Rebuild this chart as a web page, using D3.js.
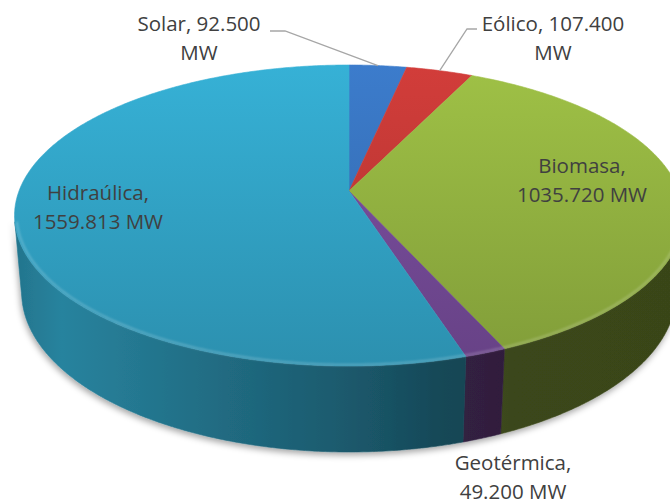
<!DOCTYPE html>
<html>
<head>
<meta charset="utf-8">
<script src="https://cdn.jsdelivr.net/npm/d3@7"></script>
<style>
  body { margin: 0; background: #fff; }
  svg { display: block; }
  .label { font-family: "Open Sans", sans-serif; font-size: 20.5px; fill: #404040; }
  .leader { fill: none; stroke: #a6a6a6; stroke-width: 1.3; }
</style>
</head>
<body>
<svg id="chart" width="670" height="504"></svg>
<script>
var categories = ['Solar', 'Eólico', 'Biomasa', 'Geotérmica', 'Hidraúlica'];
var values = [92.5, 107.4, 1035.72, 49.2, 1559.813];
var value_text = ['92.500', '107.400', '1035.720', '49.200', '1559.813'];
var unit = 'MW';

var slice_colors = ['#3a78c6', '#cc3b38', '#9abb44', '#7b4f9f', '#34acd0'];

// where excel dropped each label (centre x, first baseline) and where the line wraps
var label_layout = [
  { x: 199, y: 31, wrap: 'unit', leader: [[270, 31], [285, 31]] },
  { x: 553, y: 31, wrap: 'unit', leader: [[477, 29], [467, 29]] },
  { x: 582, y: 173, wrap: 'value', leader: null },
  { x: 513, y: 470, wrap: 'value', leader: null },
  { x: 98, y: 200, wrap: 'value', leader: null }
];
var line_gap = 29;

// 3d camera looking down on the pie
var cx = 349, cy = 191;
var focal = 1815, cam_dist = 5.5, tilt = Math.asin(0.444), thickness = 0.262;

function project(angle, r, z) {
  var x = r * Math.sin(angle);
  var y = -r * Math.cos(angle); // positive = towards viewer
  var d = cam_dist - (y * Math.cos(tilt) + z * Math.sin(tilt));
  return [cx + focal * x / d, cy + focal * (y * Math.sin(tilt) - z * Math.cos(tilt)) / d];
}

function arc_points(a0, a1, r, z) {
  var steps = Math.max(2, Math.ceil(Math.abs(a1 - a0) / (Math.PI / 360)));
  var pts = [];
  for (var i = 0; i <= steps; i++) {
    pts.push(project(a0 + (a1 - a0) * i / steps, r, z));
  }
  return pts;
}

function shade(c, k) {
  var rgb = d3.rgb(c);
  return d3.rgb(rgb.r * k, rgb.g * k, rgb.b * k).formatHex();
}

var svg = d3.select('#chart');
var defs = svg.append('defs');

var shadow = defs.append('filter').attr('id', 'shadow')
  .attr('x', '-10%').attr('y', '-10%').attr('width', '120%').attr('height', '130%');
shadow.append('feDropShadow').attr('dx', -1).attr('dy', 3).attr('stdDeviation', 3)
  .attr('flood-color', '#000').attr('flood-opacity', 0.35);

var blur = defs.append('filter').attr('id', 'soft');
blur.append('feGaussianBlur').attr('stdDeviation', 1);

// gradients: top face lit from the back, side darker to the right
var top_stops = [[0, 1.03], [1, 0.84]];
var wall_stops = [[0, 0.68], [0.07, 0.76], [0.28, 0.64], [0.5, 0.52], [0.64, 0.42], [0.74, 0.38], [1, 0.37]];

slice_colors.forEach(function (c, i) {
  var tg = defs.append('linearGradient').attr('id', 'top_' + i)
    .attr('gradientUnits', 'userSpaceOnUse')
    .attr('x1', 0).attr('x2', 0).attr('y1', 65).attr('y2', 366);
  top_stops.forEach(function (s) {
    tg.append('stop').attr('offset', s[0]).attr('stop-color', shade(c, s[1]));
  });
  var wg = defs.append('linearGradient').attr('id', 'wall_' + i)
    .attr('gradientUnits', 'userSpaceOnUse')
    .attr('x1', 15).attr('x2', 683).attr('y1', 0).attr('y2', 0);
  wall_stops.forEach(function (s) {
    wg.append('stop').attr('offset', s[0]).attr('stop-color', shade(c, s[1]));
  });
});

var pie = d3.pie().sort(null).value(function (d) { return d; });
var slices = pie(values);

var line = d3.line();

// only the part of the rim that faces the camera
var wall_min = Math.acos(-1 / (cam_dist * Math.cos(tilt)));
var wall_max = 2 * Math.PI - wall_min;

var walls = svg.append('g').attr('filter', 'url(#shadow)');
slices.forEach(function (s, i) {
  var a0 = Math.max(s.startAngle, wall_min);
  var a1 = Math.min(s.endAngle, wall_max);
  if (a1 <= a0) return;
  var pts = arc_points(a0, a1, 1, 0).concat(arc_points(a1, a0, 1, -thickness));
  walls.append('path')
    .attr('d', line(pts) + 'Z')
    .attr('fill', 'url(#wall_' + i + ')')
    .attr('stroke', 'url(#wall_' + i + ')')
    .attr('stroke-width', 0.6);
});

var tops = svg.append('g');
slices.forEach(function (s, i) {
  var pts = [project(0, 0, 0)].concat(arc_points(s.startAngle, s.endAngle, 1, 0));
  tops.append('path')
    .attr('d', line(pts) + 'Z')
    .attr('fill', 'url(#top_' + i + ')')
    .attr('stroke', 'url(#top_' + i + ')')
    .attr('stroke-width', 0.6);
});

// bevel highlight along the front rim
svg.append('path')
  .attr('d', line(arc_points(wall_min, wall_max, 0.994, 0)))
  .attr('fill', 'none')
  .attr('stroke', 'rgba(255,255,255,0.22)')
  .attr('stroke-width', 2)
  .attr('filter', 'url(#soft)');

// labels
var labels = svg.append('g');
slices.forEach(function (s, i) {
  var lay = label_layout[i];
  var lines;
  if (lay.wrap == 'unit') {
    lines = [categories[i] + ', ' + value_text[i], unit];
  } else {
    lines = [categories[i] + ',', value_text[i] + ' ' + unit];
  }
  var t = labels.append('text').attr('class', 'label').attr('text-anchor', 'middle');
  lines.forEach(function (l, j) {
    t.append('tspan').attr('x', lay.x).attr('y', lay.y + j * line_gap).text(l);
  });
  if (lay.leader) {
    var mid = (s.startAngle + s.endAngle) / 2;
    var pts = lay.leader.concat([project(mid, 1, 0)]);
    labels.append('path').attr('class', 'leader').attr('d', line(pts));
  }
});
</script>
</body>
</html>
